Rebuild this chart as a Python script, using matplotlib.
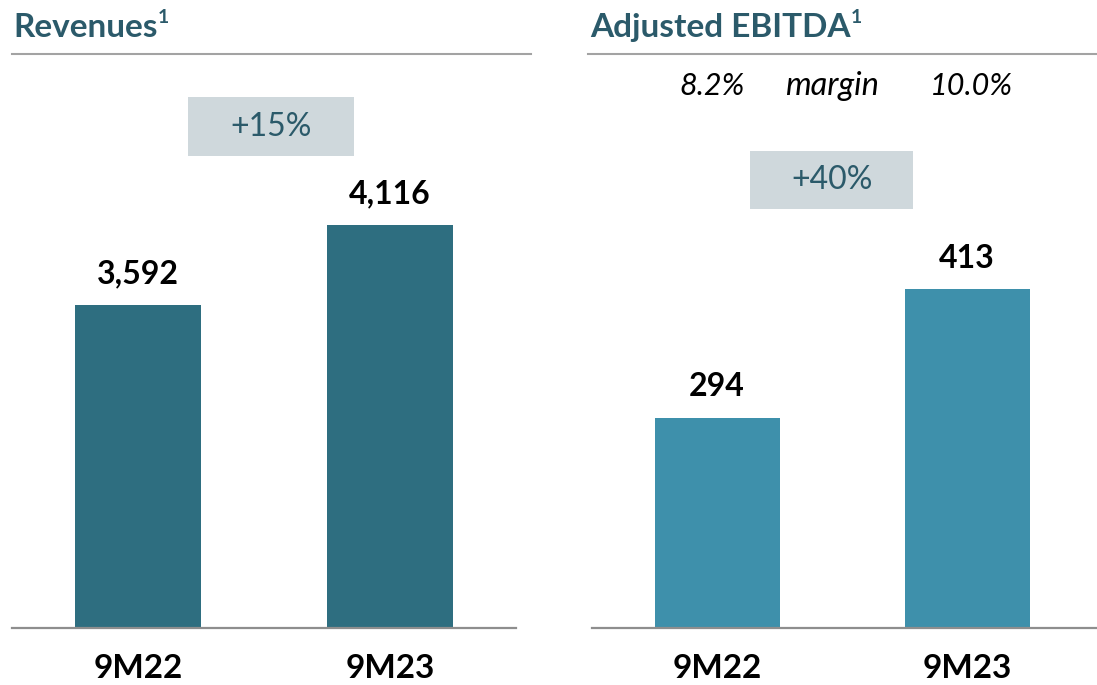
import matplotlib.pyplot as plt
from matplotlib.lines import Line2D
from matplotlib.patches import Rectangle

periods = ["9M22", "9M23"]
revenues = [3592, 4116]
ebitda = [294, 413]
growth = ["+15%", "+40%"]
margins = ["8.2%", "10.0%"]
titles = ["Revenues", "Adjusted EBITDA"]

plt.rcParams['font.family'] = ['Lato', 'DejaVu Sans']

teal_dark = "#2E6E80"
teal_light = "#3E90AB"
title_col = "#2B5A6A"
box_col = "#CFD8DC"
line_col = "#A3A3A3"

fig = plt.figure(figsize=(10.97, 6.85), dpi=100)

W, H = 1097, 685


def px_axes(x0, x1, y_top, y_bot):
    return fig.add_axes([x0 / W, 1 - y_bot / H, (x1 - x0) / W, (y_bot - y_top) / H])


ax1 = px_axes(12, 516, 54, 628)
ax2 = px_axes(592, 1097, 54, 628)

panels = [
    (ax1, revenues, teal_dark, (1479, 5233), (-0.5, 1.5)),
    (ax2, ebitda, teal_light, (100, 630.5), (-0.5, 1.52)),
]

for ax, vals, col, ylim, xlim in panels:
    x = range(len(vals))
    ax.bar(x, vals, width=0.5, color=col, zorder=2)
    ax.set_ylim(*ylim)
    ax.set_xlim(*xlim)
    for i, v in enumerate(vals):
        ax.annotate(f"{v:,}", (i, v), xytext=(0, 12), textcoords="offset points",
                    ha="center", va="bottom", fontsize=23, fontweight="bold", color="black")
    ax.set_xticks(list(x))
    ax.set_xticklabels(periods, fontsize=24, fontweight="bold")
    ax.tick_params(axis="x", length=0, pad=19)
    ax.set_yticks([])
    for s in ["top", "left", "right"]:
        ax.spines[s].set_visible(False)
    ax.spines["bottom"].set_color("#8E8E8E")
    ax.spines["bottom"].set_linewidth(1.6)
    ax.patch.set_alpha(0)

# growth boxes
box_pos = [(0.349, 0.822, 0.330, 0.103), (0.313, 0.730, 0.323, 0.101)]
for ax, g, (bx, by, bw, bh) in zip([ax1, ax2], growth, box_pos):
    ax.add_patch(Rectangle((bx, by), bw, bh, transform=ax.transAxes,
                           facecolor=box_col, edgecolor="none", zorder=1, clip_on=False))
    ax.text(bx + bw / 2, by + bh / 2, g, transform=ax.transAxes, ha="center",
            va="center", fontsize=23, color=title_col)

# margin row
ax2.text(0.238, 0.944, margins[0], transform=ax2.transAxes, ha="center", va="center",
         fontsize=22, style="italic", color="black")
ax2.text(0.475, 0.944, "margin", transform=ax2.transAxes, ha="center", va="center",
         fontsize=23.5, style="italic", color="black")
ax2.text(0.752, 0.944, margins[1], transform=ax2.transAxes, ha="center", va="center",
         fontsize=22, style="italic", color="black")

# titles with footnote marker, and rules
fig.canvas.draw()
renderer = fig.canvas.get_renderer()
for tx, t in zip([13, 590], titles):
    tt = fig.text(tx / W, 1 - 37 / H, t, fontsize=24, fontweight="bold",
                  color=title_col, va="baseline", ha="left")
    bb = tt.get_window_extent(renderer)
    fig.text(bb.x1 / W, 1 - 23 / H, "1", fontsize=14, fontweight="bold",
             color=title_col, va="baseline", ha="left")
fig.add_artist(Line2D([12 / W, 531 / W], [1 - 54 / H] * 2, color=line_col, lw=1.5))
fig.add_artist(Line2D([588 / W, 1.0], [1 - 54 / H] * 2, color=line_col, lw=1.5))

fig.savefig("out.png", dpi=100)
